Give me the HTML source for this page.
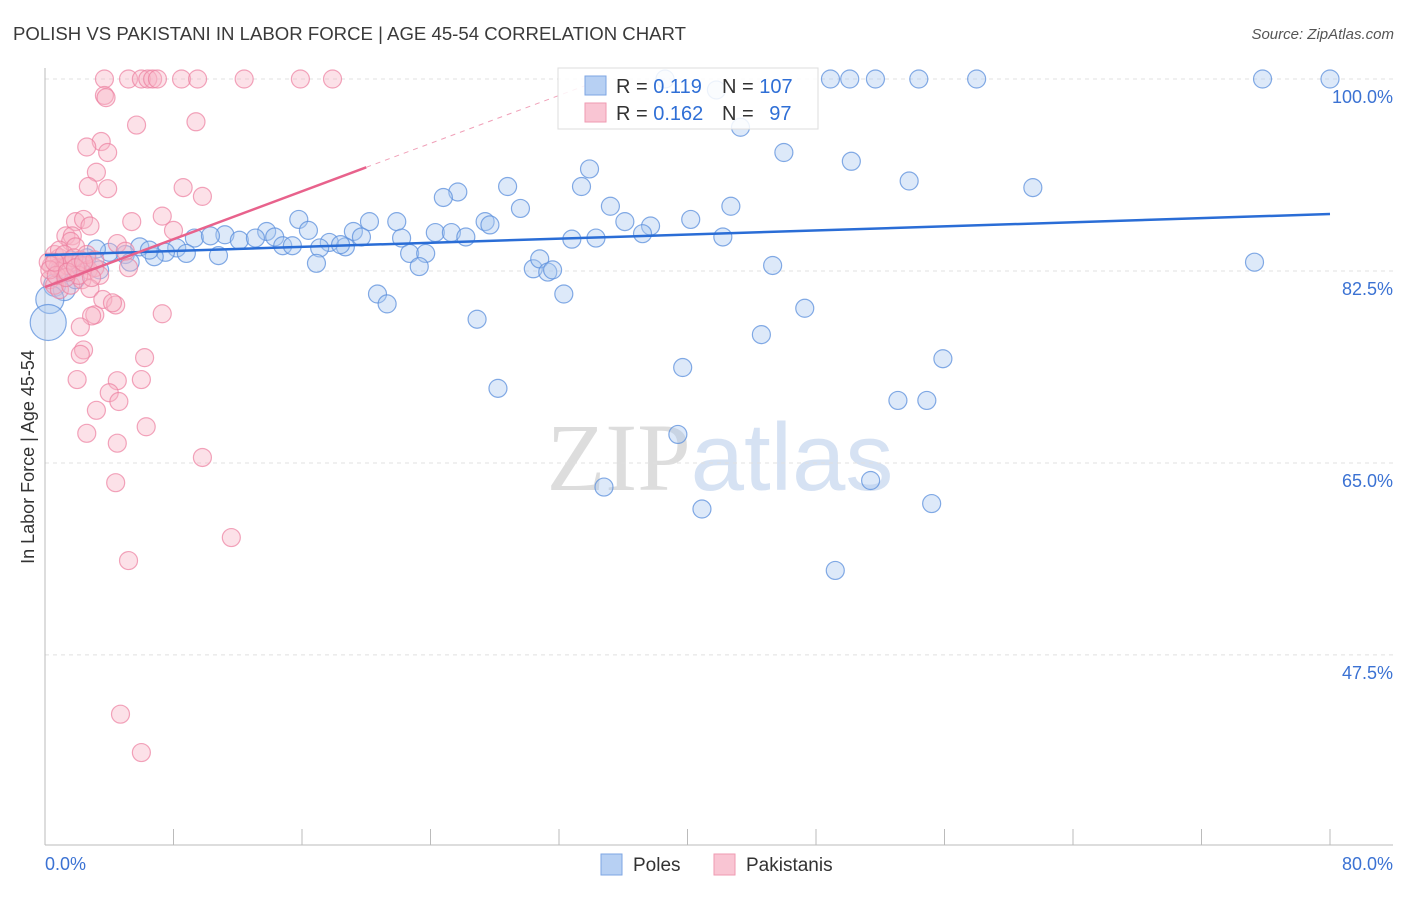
<!DOCTYPE html>
<html><head><meta charset="utf-8"><style>
body{margin:0;background:#fff;font-family:"Liberation Sans",sans-serif;}
svg text{font-family:"Liberation Sans",sans-serif;}
</style></head><body>
<svg id="chart" width="1406" height="892" viewBox="0 0 1406 892" xmlns="http://www.w3.org/2000/svg">
<text x="13" y="40" font-size="18.6" fill="#3a3a3a">POLISH VS PAKISTANI IN LABOR FORCE | AGE 45-54 CORRELATION CHART</text>
<text x="1394" y="39" font-size="15" fill="#555" font-style="italic" text-anchor="end">Source: ZipAtlas.com</text>
<text x="720" y="490" font-size="96" text-anchor="middle" fill="#d8d8d8" opacity="0.7"><tspan font-family="Liberation Serif" fill="#cfcfcf">ZIP</tspan><tspan fill="#c5d6ee">atlas</tspan></text>
<g id="grid"></g>
<g id="axes"></g>
<g id="blue"></g>
<g id="pink"></g>
<g id="trend"></g>
<g>
<rect x="558" y="68" width="260" height="61" fill="#fff" fill-opacity="0.85" stroke="#ddd"/>
<rect x="585" y="76" width="21" height="19" fill="#b7d0f3" stroke="#7ea6e3"/>
<rect x="585" y="103" width="21" height="19" fill="#f9c5d3" stroke="#ef9ab2"/>
<text x="616" y="93" font-size="20" fill="#333">R = <tspan fill="#2f6fd6">0.119</tspan></text>
<text x="722" y="93" font-size="20" fill="#333">N = <tspan fill="#2f6fd6">107</tspan></text>
<text x="616" y="120" font-size="20" fill="#333">R = <tspan fill="#2f6fd6">0.162</tspan></text>
<text x="722" y="120" font-size="20" fill="#333">N = <tspan fill="#2f6fd6" dx="10">97</tspan></text>
</g>
<g>
<rect x="601" y="854" width="21" height="21" fill="#b7d0f3" stroke="#7ea6e3"/>
<text x="633" y="871" font-size="19" fill="#333">Poles</text>
<rect x="714" y="854" width="21" height="21" fill="#f9c5d3" stroke="#ef9ab2"/>
<text x="746" y="871" font-size="19" fill="#333">Pakistanis</text>
</g>
<text transform="translate(34,457) rotate(-90)" font-size="18" fill="#333" text-anchor="middle">In Labor Force | Age 45-54</text>
</svg>
<script>
const yTicks=[100,82.5,65,47.5];
const yTickLabels=["100.0%","82.5%","65.0%","47.5%"];
const xTickLabels=["0.0%","80.0%"];
const blueX=[38.6,48.9,50.1,51.7,54.4,58.0,75.8,80.0,41.8,43.3,46.0,50.2,33.9,53.8,61.5,28.8,33.4,25.7,24.8,35.2,29.6,27.4,15.8,20.2,21.9,36.1,37.7,40.2,42.7,16.4,19.2,24.3,25.3,26.2,27.7,32.8,34.3,37.2,42.2,13.8,11.2,9.3,10.3,12.1,13.1,14.3,14.8,15.4,17.7,18.7,19.7,22.2,8.2,7.5,5.9,6.8,8.8,10.8,5.0,4.0,3.2,2.6,2.2,1.6,0.9,0.6,1.2,0.3,0.2,17.1,18.4,22.7,23.7,16.9,23.3,30.4,30.8,31.3,31.6,45.3,75.3,20.7,21.3,32.3,47.3,26.9,44.6,55.9,39.7,28.2,53.1,54.9,39.4,51.4,34.8,55.2,40.9,49.2,3.4,1.9,5.3,6.5];
const blueY=[100,100,100,100,100,100,100,100,99.0,95.6,93.3,92.5,91.8,90.7,90.1,90.2,90.2,89.7,89.2,88.4,88.2,87.0,87.2,87.0,87.0,87.0,86.6,87.2,88.4,86.2,86.1,86.0,86.0,85.6,86.7,85.4,85.5,85.9,85.6,86.1,85.8,85.5,85.7,85.3,85.5,85.6,84.8,84.8,85.1,84.7,85.6,85.5,84.6,84.2,84.7,83.8,84.1,83.9,84.0,84.2,84.5,83.7,83.0,83.5,82.6,81.2,80.8,79.9,77.8,84.6,84.9,84.1,84.1,83.2,82.9,82.7,83.6,82.4,82.6,83.0,83.3,80.4,79.5,80.4,79.1,78.1,76.7,74.5,73.7,71.8,70.7,70.7,67.6,63.4,62.8,61.3,60.8,55.2,82.6,81.7,83.3,84.4];
const blueSize=blueX.map((v,i)=>i===67?14:(i===68?18:(i===65||i===66?11:9)));
const pinkX=[3.7,5.2,6.0,6.4,6.7,7.0,8.5,9.5,12.4,15.9,17.9,3.7,3.8,5.7,9.4,3.5,2.6,3.9,3.2,2.7,3.9,8.6,9.8,1.9,2.4,2.8,5.4,7.3,8.0,1.3,1.7,1.6,1.9,4.5,5.0,0.6,0.9,1.2,0.4,0.8,1.1,1.4,1.7,2.2,2.5,2.7,3.1,3.4,0.3,0.6,0.9,1.6,2.3,2.8,2.1,0.2,0.3,0.7,1.3,5.2,3.6,4.4,4.2,3.1,2.9,7.3,2.2,2.4,2.2,6.2,2.0,4.5,6.0,4.0,4.6,3.2,6.3,2.6,4.5,9.8,4.4,11.6,5.2,4.7,6.0,0.9,1.2,1.8,2.6,3.1,0.6,1.4,1.9,2.4,2.9];
const pinkY=[100,100,100,100,100,100,100,100,100,100,100,98.5,98.3,95.8,96.1,94.3,93.8,93.3,91.5,90.2,90.0,90.1,89.3,87.0,87.2,86.6,87.0,87.5,86.2,85.7,85.7,85.2,84.7,85.0,84.3,84.0,83.7,83.3,83.0,82.8,82.6,83.0,83.3,83.5,83.0,82.6,82.8,82.1,81.7,81.2,80.8,81.2,81.7,80.9,82.1,83.3,82.6,82.1,81.9,82.8,79.9,79.4,79.6,78.5,78.4,78.6,77.4,75.3,74.9,74.6,72.6,72.5,72.6,71.4,70.6,69.8,68.3,67.7,66.8,65.5,63.2,58.2,56.1,42.1,38.6,84.4,84.0,83.7,84.0,83.5,83.3,82.4,82.8,83.3,81.9];
const blueTrend=[83.95,87.69];
const pinkTrend=[81.03,0.546];
const NS="http://www.w3.org/2000/svg";
const X0=45,X1=1330,Y100=79,PXPCT=10.97;
function sx(v){return X0+(X1-X0)*v/80;}
function sy(v){return Y100+(100-v)*PXPCT;}
function mk(tag,attrs,parent){const e=document.createElementNS(NS,tag);for(const k in attrs)e.setAttribute(k,attrs[k]);parent.appendChild(e);return e;}
const grid=document.getElementById('grid'),axes=document.getElementById('axes');
yTicks.forEach((t,i)=>{
  const l=mk('line',{x1:45,x2:1393,y1:sy(t),y2:sy(t),stroke:'#e0e0e0','stroke-dasharray':'4,4'},grid);
  
  
  const tx=mk('text',{x:1393,y:sy(t)+24,'font-size':18,fill:'#3b72d3','text-anchor':'end'},axes);
  tx.textContent=yTickLabels[i];
  
  
});
const ya=mk('line',{x1:45,x2:45,y1:68,y2:845,stroke:'#bbb'},axes);


const xa=mk('line',{x1:45,x2:1393,y1:845,y2:845,stroke:'#bbb'},axes);


for(let k=0;k<=10;k++){const t=mk('line',{x1:sx(k*8),x2:sx(k*8),y1:829,y2:845,stroke:'#bbb'},axes);
  
  }
const xl0=mk('text',{x:45,y:870,'font-size':18,fill:'#3b72d3'},axes);xl0.textContent=xTickLabels[0];


const xl1=mk('text',{x:1393,y:870,'font-size':18,fill:'#3b72d3','text-anchor':'end'},axes);xl1.textContent=xTickLabels[1];


const bg=document.getElementById('blue');
blueX.forEach((v,i)=>{const c=mk('circle',{cx:sx(v),cy:sy(blueY[i]),r:blueSize[i],fill:'#a9c7f0','fill-opacity':0.4,stroke:'#5b8fdc','stroke-opacity':0.75,'stroke-width':1.2},bg);
  
  });
const pg=document.getElementById('pink');
pinkX.forEach((v,i)=>{const c=mk('circle',{cx:sx(v),cy:sy(pinkY[i]),r:9,fill:'#f7b3c6','fill-opacity':0.4,stroke:'#ec7f9f','stroke-opacity':0.7,'stroke-width':1.2},pg);
  
  });
const tg=document.getElementById('trend');
const bl=mk('line',{x1:sx(0),y1:sy(blueTrend[0]),x2:sx(80),y2:sy(blueTrend[1]),stroke:'#2a6dd6','stroke-width':2.5},tg);


const pEnd=20,pMax=(100-pinkTrend[0])/pinkTrend[1];
const pl=mk('line',{x1:sx(0),y1:sy(pinkTrend[0]),x2:sx(pEnd),y2:sy(pinkTrend[0]+pinkTrend[1]*pEnd),stroke:'#e8628c','stroke-width':2.5},tg);


const pd=mk('line',{x1:sx(pEnd),y1:sy(pinkTrend[0]+pinkTrend[1]*pEnd),x2:sx(pMax),y2:sy(100),stroke:'#f0a0b8','stroke-width':1,'stroke-dasharray':'5,5'},tg);


</script>
</body></html>
